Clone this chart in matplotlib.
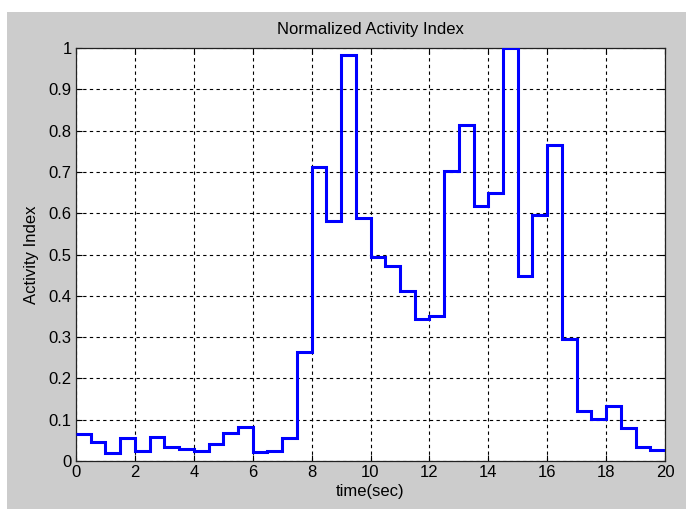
import numpy as np
import matplotlib
matplotlib.use("Agg")
import matplotlib.pyplot as plt
from matplotlib.patches import Rectangle

plt.rcParams['font.family'] = ['Liberation Sans', 'DejaVu Sans']

# activity index per 0.5 s bin, 0..20 s
edges = np.arange(0, 20.5, 0.5)
activity = [0.066, 0.046, 0.020, 0.055, 0.024, 0.059, 0.033, 0.028,
            0.024, 0.041, 0.069, 0.082, 0.021, 0.024, 0.055, 0.263,
            0.713, 0.581, 0.984, 0.588, 0.495, 0.471, 0.412, 0.343,
            0.350, 0.703, 0.813, 0.618, 0.649, 1.000, 0.449, 0.596,
            0.764, 0.295, 0.121, 0.101, 0.133, 0.080, 0.035, 0.027]
xticks = np.arange(0, 21, 2)
yticks = np.arange(0, 1.01, 0.1)
ytick_labels = ['0', '0.1', '0.2', '0.3', '0.4', '0.5', '0.6', '0.7', '0.8', '0.9', '1']

fig = plt.figure(figsize=(6.86, 5.09), dpi=100)
fig.patch.set_facecolor('white')
fig.patches.append(Rectangle((7/686, 0), 1, 1 - 12/509, transform=fig.transFigure,
                             facecolor='#cccccc', edgecolor='none', zorder=-10))

ax = fig.add_axes([76/686, 1 - 461/509, (665 - 76)/686, (461 - 48)/509])
ax.set_facecolor('white')
ax.stairs(activity, edges, baseline=None, color='#0000ff', linewidth=2.2, zorder=3)

ax.set_xlim(0, 20)
ax.set_ylim(0, 1)
ax.set_xticks(xticks)
ax.set_yticks(yticks)
ax.set_yticklabels(ytick_labels)
ax.grid(True, color='black', linestyle=(0, (3, 3)), linewidth=0.8)
ax.tick_params(direction='in', length=4, width=0.8, labelsize=12,
               top=True, right=True, pad=3)
for s in ax.spines.values():
    s.set_linewidth(0.9)
    s.set_color('#222222')

ax.set_title('Normalized Activity Index', fontsize=12, pad=10)
ax.set_xlabel('time(sec)', fontsize=12, labelpad=3)
ax.set_ylabel('Activity Index', fontsize=12, labelpad=7)

fig.savefig('out.png', dpi=100)
